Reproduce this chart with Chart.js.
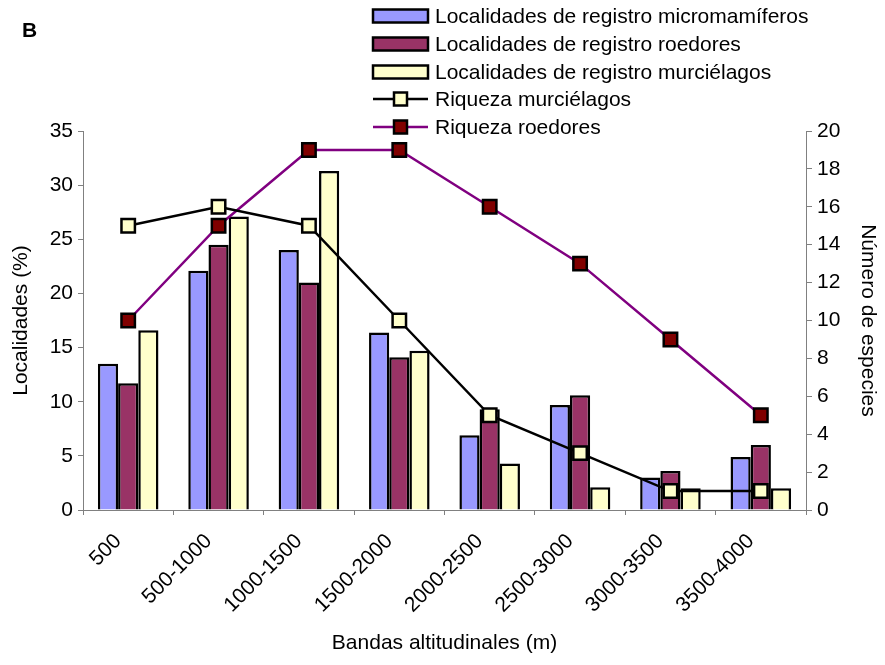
<!DOCTYPE html>
<html>
<head>
<meta charset="utf-8">
<script src="https://cdn.jsdelivr.net/npm/chart.js@4/dist/chart.umd.min.js"></script>
<style>
  html, body { margin: 0; padding: 0; background: #fff; }
  #wrap { position: relative; width: 885px; height: 665px; }
</style>
</head>
<body>
<div id="wrap"><canvas id="c" width="885" height="665"></canvas></div>
<script>
// Altitudinal bands (m)
const bandas = ['500', '500-1000', '1000-1500', '1500-2000', '2000-2500', '2500-3000', '3000-3500', '3500-4000'];

// Share of record localities per band (%)
const locMicromamiferos = [13.5, 22.1, 24.0, 16.4, 6.9, 9.7, 3.0, 4.9];
const locRoedores       = [11.7, 24.5, 21.0, 14.1, 9.3, 10.6, 3.6, 6.0];
const locMurcielagos    = [16.6, 27.1, 31.3, 14.7, 4.3, 2.1, 2.0, 2.0];

// Species richness per band
const riquezaMurcielagos = [15, 16, 15, 10, 5, 3, 1, 1];
const riquezaRoedores    = [10, 15, 19, 19, 16, 13, 9, 5];

const FONT = "'Liberation Sans', Arial, sans-serif";
const FS = 21;
const AXIS_GREY = '#808080';

// Legend drawn as a column of rows at the top right, plus the panel letter
const legendPlugin = {
  id: 'panelLegend',
  afterDraw(chart) {
    const ctx = chart.ctx;
    ctx.save();
    ctx.fillStyle = '#000';
    ctx.font = 'bold 21px ' + FONT;
    ctx.textBaseline = 'middle';
    ctx.textAlign = 'left';
    ctx.fillText('B', 22, 31);

    const x0 = 373, w = 55, textX = 435;
    const rows = [16, 44, 72, 99, 127];
    ctx.font = FS + 'px ' + FONT;
    chart.data.datasets.forEach((ds, i) => {
      const y = rows[i];
      if (ds.type === 'line') {
        ctx.strokeStyle = ds.borderColor;
        ctx.lineWidth = 2.5;
        ctx.beginPath();
        ctx.moveTo(x0, y);
        ctx.lineTo(x0 + w, y);
        ctx.stroke();
        ctx.fillStyle = ds.pointBackgroundColor;
        ctx.strokeStyle = '#000';
        ctx.lineWidth = 2.5;
        ctx.fillRect(x0 + w / 2 - 6.5, y - 6.5, 13, 13);
        ctx.strokeRect(x0 + w / 2 - 6.5, y - 6.5, 13, 13);
      } else {
        ctx.fillStyle = ds.backgroundColor;
        ctx.strokeStyle = '#000';
        ctx.lineWidth = 2.5;
        ctx.fillRect(x0, y - 6.5, w, 13);
        ctx.strokeRect(x0, y - 6.5, w, 13);
      }
      ctx.fillStyle = '#000';
      ctx.fillText(ds.label, textX, y + 1);
    });
    ctx.restore();
  }
};

const barStyle = (color) => ({
  backgroundColor: color,
  borderColor: '#000',
  borderWidth: 2.5,
  categoryPercentage: 0.67,
  barPercentage: 1.0,
  yAxisID: 'y',
  order: 2
});

const lineStyle = (lineColor, fill) => ({
  type: 'line',
  borderColor: lineColor,
  borderWidth: 2.5,
  pointStyle: 'rect',
  pointRadius: 9.5,
  pointHoverRadius: 9.5,
  pointBackgroundColor: fill,
  pointBorderColor: '#000',
  pointBorderWidth: 2.5,
  tension: 0,
  fill: false,
  yAxisID: 'y1',
  order: 1
});

const tickFont = { family: FONT, size: FS };

new Chart(document.getElementById('c'), {
  type: 'bar',
  data: {
    labels: bandas,
    datasets: [
      Object.assign({ label: 'Localidades de registro micromamíferos', data: locMicromamiferos }, barStyle('#9999FF')),
      Object.assign({ label: 'Localidades de registro roedores', data: locRoedores }, barStyle('#993366')),
      Object.assign({ label: 'Localidades de registro murciélagos', data: locMurcielagos }, barStyle('#FFFFCC')),
      Object.assign({ label: 'Riqueza murciélagos', data: riquezaMurcielagos }, lineStyle('#000000', '#FFFFCC')),
      Object.assign({ label: 'Riqueza roedores', data: riquezaRoedores }, lineStyle('#800080', '#800000'))
    ]
  },
  options: {
    responsive: false,
    animation: false,
    layout: { padding: { top: 131, left: 0, right: 0, bottom: 0 } },
    plugins: {
      legend: { display: false },
      tooltip: { enabled: false },
      title: { display: false }
    },
    scales: {
      x: {
        grid: { display: true, drawOnChartArea: false, offset: true, color: AXIS_GREY, tickLength: 5, tickWidth: 1 },
        border: { display: true, color: AXIS_GREY, width: 1 },
        ticks: { autoSkip: false, minRotation: 45, maxRotation: 45, color: '#000', font: tickFont, padding: 14, labelOffset: -10 },
        title: { display: true, text: 'Bandas altitudinales (m)', color: '#000', font: tickFont, padding: { top: 0, bottom: 9 } },
        afterFit(s) { s.height = 155; }
      },
      y: {
        position: 'left',
        min: 0, max: 35,
        ticks: { stepSize: 5, color: '#000', font: tickFont, padding: 5 },
        grid: { drawOnChartArea: false, color: AXIS_GREY, tickLength: 5 },
        border: { display: true, color: AXIS_GREY, width: 1 },
        title: { display: true, text: 'Localidades (%)', color: '#000', font: tickFont, padding: { top: 9, bottom: 0 } },
        afterFit(s) { s.width = 83; }
      },
      y1: {
        position: 'right',
        min: 0, max: 20,
        ticks: { stepSize: 2, color: '#000', font: tickFont, padding: 5 },
        grid: { drawOnChartArea: false, color: AXIS_GREY, tickLength: 6 },
        border: { display: true, color: AXIS_GREY, width: 1 },
        title: { display: true, text: 'Número de especies', color: '#000', font: tickFont, padding: { top: 5, bottom: 0 } },
        afterFit(s) { s.width = 79; }
      }
    }
  },
  plugins: [legendPlugin]
});
</script>
</body>
</html>
